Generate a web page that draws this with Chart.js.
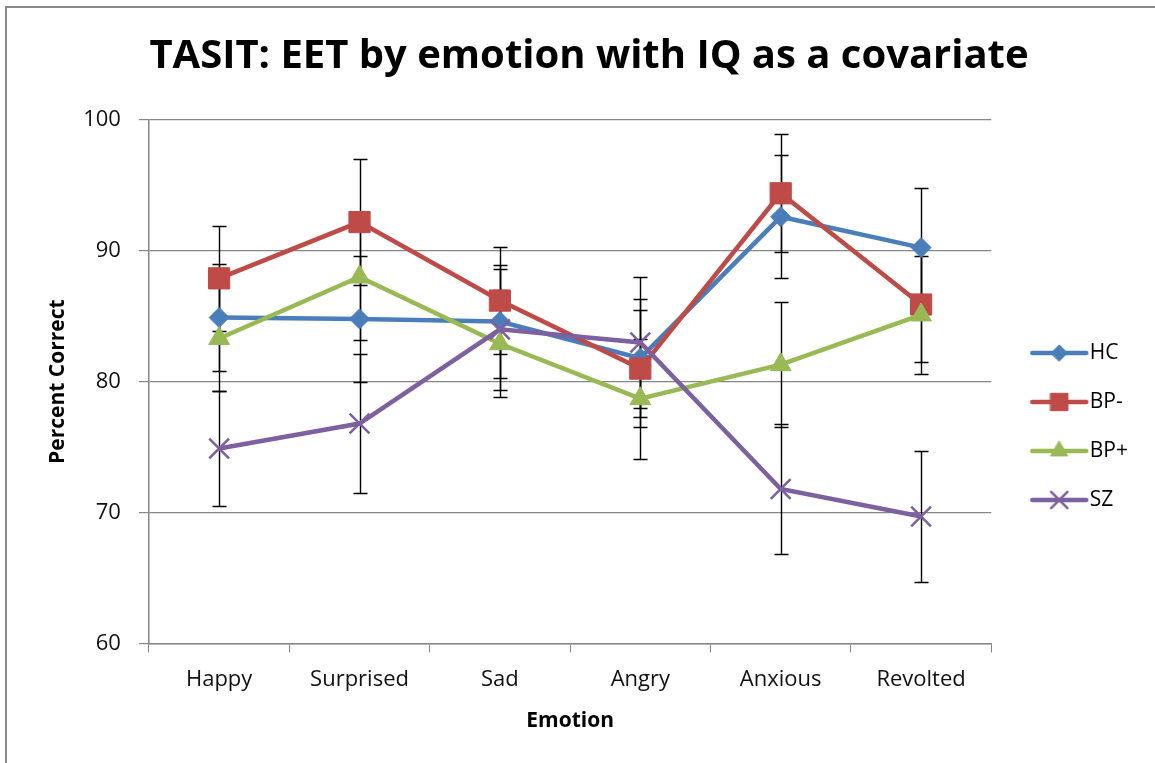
<!DOCTYPE html>
<html>
<head>
<meta charset="utf-8">
<script src="https://cdn.jsdelivr.net/npm/chart.js@4.4.1/dist/chart.umd.min.js"></script>
<style>
  body { margin: 0; overflow: hidden; background: #fff; }
  #frame { position: absolute; left: 5px; top: 6px; width: 1300px; height: 1000px;
           border-left: 2px solid #8a8a8a; border-top: 2px solid #8a8a8a; }
  #wrap { position: absolute; left: 0; top: 0; }
</style>
</head>
<body>
<div id="frame"></div>
<div id="wrap"><canvas id="eetChart" width="1160" height="853"></canvas></div>
<script>
// Data
const emotions = ['Happy', 'Surprised', 'Sad', 'Angry', 'Anxious', 'Revolted'];
const groups = ['HC', 'BP-', 'BP+', 'SZ'];

const hc = [84.9, 84.8, 84.6, 81.8, 92.6, 90.25];
const bpMinus = [87.9, 92.2, 86.2, 81.0, 94.4, 85.9];
const bpPlus = [83.3, 88.0, 82.9, 78.7, 81.3, 85.1];
const sz = [74.9, 76.8, 84.0, 83.0, 71.8, 69.7];

// error bar half-widths
const hcErr = [4.1, 4.8, 4.3, 4.5, 4.7, 4.55];
const bpMinusErr = [4.0, 4.8, 4.1, 4.5, 4.5, 4.4];
const bpPlusErr = [4.0, 4.8, 4.1, 4.6, 4.8, 4.5];
const szErr = [4.4, 5.3, 4.6, 5.0, 5.0, 5.0];

const yMin = 60;
const yMax = 100;
const yStep = 10;

const colors = ['#4a7ebb', '#be4b48', '#98b954', '#7d60a0'];
const styles = ['rectRot', 'rect', 'triangle', 'crossRot'];
const radii = [10, 15, 12, 14];

const fontFamily = "'Open Sans', sans-serif";
const axisGray = '#868686';

// legend icon: line with marker in the middle
function legendIcon(i)
{
  const c = document.createElement('canvas');
  c.width = 80;
  c.height = 30;
  const g = c.getContext('2d');
  g.strokeStyle = colors[i];
  g.lineWidth = 4.5;
  g.lineCap = 'round';
  g.beginPath();
  g.moveTo(23, 15);
  g.lineTo(77, 15);
  g.stroke();
  g.fillStyle = colors[i];
  g.lineWidth = styles[i] === 'crossRot' ? 2.5 : 1;
  Chart.helpers.drawPoint(g, {
    pointStyle: styles[i],
    radius: radii[i] * 0.82,
    rotation: 0,
    borderWidth: g.lineWidth
  }, 50, 15);
  return c;
}

// Error bars drawn under the lines
const errorBars = {
  id: 'errorBars',
  beforeDatasetsDraw(chart)
  {
    const {ctx, scales: {x, y}} = chart;
    ctx.save();
    ctx.strokeStyle = '#000';
    ctx.lineWidth = 1.4;
    chart.data.datasets.forEach((ds) => {
      ds.errors.forEach((e, j) => {
        const px = Math.round(x.getPixelForValue(j)) + 0.5;
        const top = Math.round(y.getPixelForValue(ds.data[j] + e)) + 0.5;
        const bot = Math.round(y.getPixelForValue(ds.data[j] - e)) + 0.5;
        ctx.beginPath();
        ctx.moveTo(px, top);
        ctx.lineTo(px, bot);
        ctx.moveTo(px - 7, top);
        ctx.lineTo(px + 7, top);
        ctx.moveTo(px - 7, bot);
        ctx.lineTo(px + 7, bot);
        ctx.stroke();
      });
    });
    ctx.restore();
  }
};

const seriesValues = [hc, bpMinus, bpPlus, sz];
const seriesErrors = [hcErr, bpMinusErr, bpPlusErr, szErr];

const datasets = groups.map((name, i) => ({
  label: name,
  data: seriesValues[i],
  errors: seriesErrors[i],
  borderColor: colors[i],
  backgroundColor: colors[i],
  borderWidth: 4.5,
  tension: 0,
  pointStyle: styles[i],
  pointRadius: radii[i],
  pointBorderWidth: styles[i] === 'crossRot' ? 2.5 : 1,
  pointBackgroundColor: colors[i],
  pointBorderColor: colors[i],
  order: groups.length - i
}));

const tickFont = { family: fontFamily, size: 22 };
const legendFont = { family: fontFamily, size: 21 };
const titleFont = { family: fontFamily, size: 21, weight: 'bold' };

new Chart(document.getElementById('eetChart'), {
  type: 'line',
  data: { labels: emotions, datasets: datasets },
  options: {
    responsive: false,
    animation: false,
    layout: { padding: { left: 40, right: 22, top: 0, bottom: 0 } },
    plugins: {
      title: {
        display: true,
        text: 'TASIT: EET by emotion with IQ as a covariate',
        color: '#000',
        font: { family: fontFamily, size: 40, weight: 'bold' },
        padding: { top: 33, bottom: 39 }
      },
      legend: {
        position: 'right',
        labels: {
          usePointStyle: true,
          pointStyleWidth: 60,
          padding: 28,
          color: '#000',
          font: legendFont,
          sort: (a, b) => a.datasetIndex - b.datasetIndex,
          generateLabels(chart)
          {
            const items = Chart.defaults.plugins.legend.labels.generateLabels(chart);
            items.forEach((it) => { it.pointStyle = legendIcon(it.datasetIndex); });
            return items;
          }
        }
      },
      tooltip: { enabled: false }
    },
    scales: {
      x: {
        offset: true,
        grid: { offset: true, drawOnChartArea: false, drawTicks: true, tickLength: 9, color: axisGray },
        border: { color: axisGray, width: 1.5 },
        ticks: { color: '#111', font: tickFont, padding: 14 },
        title: { display: true, text: 'Emotion', color: '#000', font: titleFont, padding: { top: 2, bottom: 119 } }
      },
      y: {
        min: yMin,
        max: yMax,
        ticks: { stepSize: yStep, color: '#111', font: tickFont, padding: 18 },
        grid: { color: axisGray, lineWidth: 1.2, tickLength: 10 },
        border: { color: axisGray, width: 1.5 },
        title: { display: true, text: 'Percent Correct', color: '#000', font: titleFont, padding: { top: 5, bottom: -5 } }
      }
    }
  },
  plugins: [errorBars]
});
</script>
</body>
</html>
